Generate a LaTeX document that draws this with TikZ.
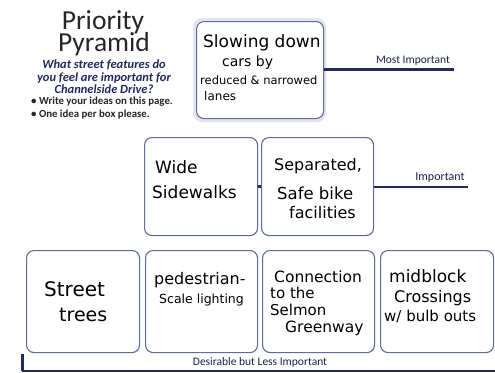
\documentclass[tikz,border=0pt]{standalone}
\usepackage{fontspec}
\setmainfont{Carlito}
\newfontfamily\hand{DejaVu Sans}
\begin{document}
\begin{tikzpicture}[x=1pt,y=-1pt,
  card/.style={draw=cardblue,line width=1.1pt,rounded corners=7.5pt,inner sep=0pt,anchor=north west},
  rule/.style={draw=navy,line width=2.8pt},
  hw/.style={font=\hand,text=black,inner sep=0pt,anchor=west},
  lbl/.style={text=navy!80!black,inner sep=0pt},
  ttl/.style={text=black!85,inner sep=0pt,anchor=base,font=\fontsize{27.5}{27.5}\selectfont,text depth=0pt}]
\definecolor{cardblue}{HTML}{5B6C9E}
\definecolor{navy}{HTML}{1F2B5E}
\useasboundingbox[fill=white] (0,0) rectangle (495,372);

% title
\node[ttl] (t1) at (103,29.5) {Priority};
\node[ttl,text height=18pt] (t2) at (104,51) {Pyramid};
\node[lbl,font=\fontsize{12.5}{12.6}\selectfont\bfseries\itshape,text=navy,align=center] (sub) at (104,77)
  {What street features do\\you feel are important for\\Channelside Drive?};
\node[lbl,font=\fontsize{10.8}{13}\selectfont\bfseries,text=black!85,align=left,anchor=west] (bul) at (31,108)
  {\textbullet\ Write your ideas on this page.\\\textbullet\ One idea per box please.};

% top card
\fill[cardblue!25,rounded corners=9pt,opacity=0.7] (193,18) rectangle (326,122);
\fill[white,rounded corners=7pt] (196,21) rectangle (323,118);
\node[card,minimum width=127pt,minimum height=97pt] (top) at (196,21) {};
\node[hw,font=\hand\fontsize{17}{17}\selectfont] (a1) at (203,43) {Slowing down};
\node[hw,font=\hand\fontsize{14}{14}\selectfont] (a2) at (222,63) {cars by};
\node[hw,font=\hand\fontsize{11.5}{11.5}\selectfont] (a3) at (200,80) {reduced \& narrowed};
\node[hw,font=\hand\fontsize{12}{12}\selectfont] (a4) at (204,96) {lanes};
\coordinate (mi) at (454,69.5);
\draw[rule] (top.east |- mi) -- (mi);
\node[lbl,font=\fontsize{11.5}{12}\selectfont] (milbl) at (413,60.5) {Most Important};

% middle cards
\node[card,minimum width=113pt,minimum height=98pt] (m1) at (144,137) {};
\node[card,minimum width=112pt,minimum height=98pt] (m2) at (261,137) {};
\draw[rule] (m1.east) -- (m2.west);
\node[hw,font=\hand\fontsize{17}{17}\selectfont] (b1) at (155,167) {Wide};
\node[hw,font=\hand\fontsize{17}{17}\selectfont] (b2) at (152,192) {Sidewalks};
\node[hw,font=\hand\fontsize{16}{16}\selectfont] (c1) at (274,166) {Separated,};
\node[hw,font=\hand\fontsize{16.5}{16}\selectfont] (c2) at (277,193) {Safe bike};
\node[hw,font=\hand\fontsize{16}{16}\selectfont] (c3) at (289,213) {facilities};
\coordinate (im) at (468,187);
\draw[rule] (m2.east |- im) -- (im);
\node[lbl,font=\fontsize{12}{12}\selectfont] (imlbl) at (440,178) {Important};

% bottom cards
\node[card,minimum width=113pt,minimum height=102pt] (d1) at (26,250) {};
\node[card,minimum width=112pt,minimum height=102pt] (d2) at (145,250) {};
\node[card,minimum width=112pt,minimum height=102pt] (d3) at (262,250) {};
\node[card,minimum width=113pt,minimum height=102pt] (d4) at (380,250) {};
\node[hw,font=\hand\fontsize{20}{20}\selectfont] (e1) at (44,289) {Street};
\node[hw,font=\hand\fontsize{19}{19}\selectfont] (e2) at (59,315) {trees};
\node[hw,font=\hand\fontsize{16}{16}\selectfont] (f1) at (154,280) {pedestrian-};
\node[hw,font=\hand\fontsize{12.5}{12}\selectfont] (f2) at (159,300) {Scale lighting};
\node[hw,font=\hand\fontsize{15.5}{15}\selectfont] (g1) at (274,277) {Connection};
\node[hw,font=\hand\fontsize{15}{15}\selectfont] (g2) at (270,293) {to the};
\node[hw,font=\hand\fontsize{15}{15}\selectfont] (g3) at (270,310) {Selmon};
\node[hw,font=\hand\fontsize{15.5}{15}\selectfont] (g4) at (285,328) {Greenway};
\node[hw,font=\hand\fontsize{17}{17}\selectfont] (h1) at (389,276) {midblock};
\node[hw,font=\hand\fontsize{16}{16}\selectfont] (h2) at (394,298) {Crossings};
\node[hw,font=\hand\fontsize{15}{15}\selectfont] (h3) at (384,316) {w/ bulb outs};

% bottom rule
\coordinate (bl) at (22,371);
\coordinate (br) at (495,371);
\draw[navy,line width=1.8pt] (bl) -- (br);
\draw[navy,line width=3pt] (22,354) -- (bl);
\node[lbl,font=\fontsize{11.5}{12}\selectfont] (dlbl) at (260,362.5) {Desirable but Less Important};
\end{tikzpicture}
\end{document}
